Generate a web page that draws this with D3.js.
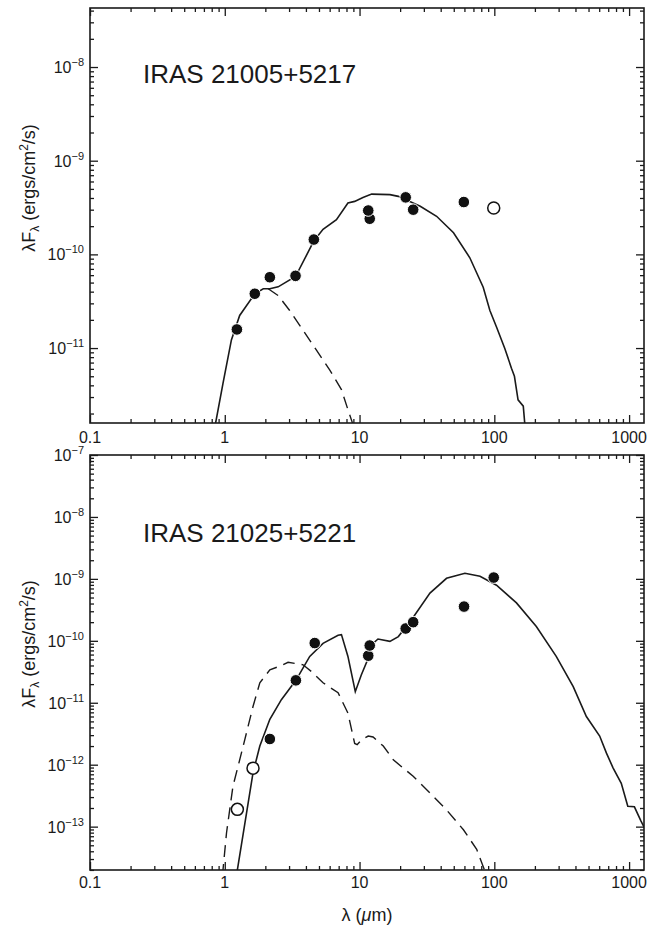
<!DOCTYPE html>
<html>
<head>
<meta charset="utf-8">
<script src="https://cdn.jsdelivr.net/npm/d3@7"></script>
<style>
  body { margin: 0; background: #fff; }
  text { font-family: "Liberation Sans", Arial, Helvetica, sans-serif; fill: #1a1a1a; }
</style>
</head>
<body>
<div id="chart"></div>
<script>
// x axis, shared by both panels
const xMajor = [0.1, 1, 10, 100, 1000];
const xTickLabels = ["0.1", "1", "10", "100", "1000"];

// IRAS 21005+5217
const topName = "IRAS 21005+5217";
const topExp = [-8, -9, -10, -11];
const topPtsLam = [1.23, 1.67, 2.16, 3.35, 4.58, 11.9, 11.6, 22, 25, 59.4];
const topPtsFlux = [1.58e-11, 3.8e-11, 5.7e-11, 5.9e-11, 1.44e-10, 2.4e-10, 2.94e-10, 4.06e-10, 3.0e-10, 3.62e-10];
const topOpenLam = [99];
const topOpenFlux = [3.13e-10];
const topModelLam = [0.83, 0.97, 1.12, 1.29, 1.67, 1.93, 2.16, 2.49, 3.35, 4.58, 5.36, 6.74, 8.2, 9.2, 10.6, 12.3,
                     16.8, 19.4, 28.2, 37.3, 49.8, 65.8, 82.7, 92.7, 103.8, 119.6, 134, 141, 150, 164, 168, 172];
const topModelFlux = [1.26e-12, 4.2e-12, 1.22e-11, 2.23e-11, 3.8e-11, 4.3e-11, 4.3e-11, 4.5e-11, 5.8e-11, 1.39e-10,
                      1.85e-10, 2.35e-10, 3.53e-10, 3.68e-10, 4.05e-10, 4.4e-10, 4.34e-10, 4.16e-10, 3.26e-10, 2.55e-10,
                      1.70e-10, 9.2e-11, 4.46e-11, 2.52e-11, 1.68e-11, 9.9e-12, 6.1e-12, 5.0e-12, 2.8e-12, 2.4e-12,
                      1.6e-12, 1.0e-12];
const topStarLam = [2.1, 2.49, 3.03, 3.81, 4.79, 6.0, 7.34, 8.2, 8.84, 9.2];
const topStarFlux = [4.3e-11, 3.63e-11, 2.52e-11, 1.55e-11, 9.5e-12, 5.85e-12, 3.6e-12, 2.2e-12, 1.6e-12, 1.0e-12];

// IRAS 21025+5221
const botName = "IRAS 21025+5221";
const botExp = [-7, -8, -9, -10, -11, -12, -13];
const botPtsLam = [2.16, 3.37, 4.65, 11.6, 11.9, 22, 25, 59.6, 99];
const botPtsFlux = [2.6e-12, 2.3e-11, 9.2e-11, 5.75e-11, 8.4e-11, 1.58e-10, 2.0e-10, 3.57e-10, 1.05e-9];
const botOpenLam = [1.62, 1.24];
const botOpenFlux = [8.8e-13, 1.9e-13];
const botModelLam = [1.22, 1.24, 1.45, 1.62, 1.82, 2.16, 2.63, 3.37, 4.27, 5.36, 6.93, 7.34, 8.2, 9.3, 10.3, 11.6,
                     11.9, 13.7, 16.8, 19.4, 24.3, 33.3, 44.2, 60.5, 78.3, 103.8, 146, 205, 288, 385, 482, 605,
                     678, 760, 875, 978, 1095, 1226, 1300];
const botModelFlux = [1.6e-14, 2.0e-14, 1.66e-13, 7.4e-13, 2.0e-12, 5.4e-12, 1.12e-11, 2.3e-11, 5.6e-11, 9.1e-11,
                      1.23e-10, 1.26e-10, 5.6e-11, 1.51e-11, 2.8e-11, 5.2e-11, 8.1e-11, 1.07e-10, 9.8e-11, 1.17e-10,
                      2.19e-10, 5.9e-10, 1.02e-9, 1.23e-9, 1.10e-9, 7.9e-10, 4.1e-10, 1.70e-10, 5.6e-11, 1.82e-11,
                      6.0e-12, 2.9e-12, 1.55e-12, 8.9e-13, 5.0e-13, 2.14e-13, 2.09e-13, 1.23e-13, 9.5e-14];
const botStarLam = [0.96, 0.97, 1.03, 1.15, 1.37, 1.62, 1.82, 2.16, 2.56, 2.95, 3.81, 4.39, 5.36, 6.93, 8.2, 9.2,
                    9.6, 10.3, 11.6, 12.6, 15.0, 17.8, 25, 33.3, 44.2, 59, 74, 84.5, 86];
const botStarFlux = [1.6e-14, 2.0e-14, 7.9e-14, 4.5e-13, 2.0e-12, 8.7e-12, 2.1e-11, 3.4e-11, 3.9e-11, 4.5e-11,
                     4.1e-11, 3.2e-11, 2.1e-11, 1.45e-11, 6.8e-12, 2.2e-12, 2.1e-12, 2.5e-12, 2.9e-12, 2.8e-12,
                     2.0e-12, 1.2e-12, 6.5e-13, 3.5e-13, 1.86e-13, 8.9e-14, 4.3e-14, 2.0e-14, 1.6e-14];

const W = 663, H = 928;
const left = 90, right = 644;

const svg = d3.select("#chart")
              .append("svg")
              .attr("width", W)
              .attr("height", H);

const x = d3.scaleLog()
            .domain([0.1, 1290])
            .range([left, right]);

const xMinor = x.ticks().filter(t => !xMajor.some(m => Math.abs(m - t) < 1e-9));

function drawPanel(p, id)
{
  const y = d3.scaleLog()
              .domain(p.yDomain)
              .range([p.bottom, p.top]);

  const yMajor = p.exp.map(e => Math.pow(10, e));
  const yMinor = y.ticks().filter(t => !yMajor.some(m => Math.abs(m - t) / m < 1e-6));

  const g = svg.append("g");

  // ticks on all four sides, pointing inward
  const axes = [
    [d3.axisBottom(x), `translate(0, ${p.bottom})`, xMajor, xMinor],
    [d3.axisTop(x), `translate(0, ${p.top})`, xMajor, xMinor],
    [d3.axisLeft(y), `translate(${left}, 0)`, yMajor, yMinor],
    [d3.axisRight(y), `translate(${right}, 0)`, yMajor, yMinor]
  ];
  axes.forEach(([ax, tr, major, minor]) => {
    const a = g.append("g").attr("transform", tr)
               .call(ax.tickValues(major).tickSize(-8).tickSizeOuter(0).tickFormat(""));
    a.select(".domain").remove();
    const b = g.append("g").attr("transform", tr)
               .call(ax.tickValues(minor).tickSize(-4).tickSizeOuter(0).tickFormat(""));
    b.select(".domain").remove();
  });
  g.selectAll(".tick line").attr("stroke", "#1a1a1a").attr("stroke-width", 1.3);

  g.append("rect")
   .attr("x", left).attr("y", p.top)
   .attr("width", right - left).attr("height", p.bottom - p.top)
   .attr("fill", "none").attr("stroke", "#1a1a1a").attr("stroke-width", 1.6);

  // tick labels
  g.selectAll(".xlab")
   .data(xMajor)
   .join("text")
   .attr("x", d => x(d))
   .attr("y", p.bottom + p.xLabDy)
   .attr("text-anchor", "middle")
   .attr("font-size", 16)
   .text((d, i) => xTickLabels[i]);

  const yl = g.selectAll(".ylab")
              .data(p.exp)
              .join("text")
              .attr("x", left - 6)
              .attr("y", d => y(Math.pow(10, d)) + 6)
              .attr("text-anchor", "end")
              .attr("font-size", 16);
  yl.append("tspan").text("10");
  yl.append("tspan").attr("font-size", 11).attr("dy", -7).text(d => "\u2212" + Math.abs(d));

  // y title
  const t = g.append("text")
             .attr("transform", `translate(35, ${p.titleY}) rotate(-90)`)
             .attr("text-anchor", "middle")
             .attr("font-size", 18);
  t.append("tspan").text("\u03bbF");
  t.append("tspan").attr("font-size", 12).attr("dy", 4).text("\u03bb");
  t.append("tspan").attr("dy", -4).text(" (ergs/cm");
  t.append("tspan").attr("font-size", 12).attr("dy", -7).text("2");
  t.append("tspan").attr("dy", 7).text("/s)");

  g.append("text")
   .attr("x", 143).attr("y", p.nameY)
   .attr("font-size", 26)
   .text(p.name);

  // model curves, clipped to the frame
  g.append("clipPath").attr("id", id)
   .append("rect")
   .attr("x", left).attr("y", p.top)
   .attr("width", right - left).attr("height", p.bottom - p.top);

  const line = d3.line()
                 .x(d => x(d[0]))
                 .y(d => y(d[1]));

  const curves = g.append("g").attr("clip-path", `url(#${id})`);
  curves.append("path")
        .datum(d3.zip(p.starLam, p.starFlux))
        .attr("d", line)
        .attr("fill", "none")
        .attr("stroke", "#1a1a1a")
        .attr("stroke-width", 1.4)
        .attr("stroke-dasharray", "12,7");
  curves.append("path")
        .datum(d3.zip(p.modelLam, p.modelFlux))
        .attr("d", line)
        .attr("fill", "none")
        .attr("stroke", "#1a1a1a")
        .attr("stroke-width", 1.6);

  g.append("g")
   .selectAll("circle")
   .data(d3.zip(p.ptsLam, p.ptsFlux))
   .join("circle")
   .attr("cx", d => x(d[0]))
   .attr("cy", d => y(d[1]))
   .attr("r", 5.8)
   .attr("fill", "#111")
   .attr("stroke", "#fff")
   .attr("stroke-width", 1);

  g.append("g")
   .selectAll("circle")
   .data(d3.zip(p.openLam, p.openFlux))
   .join("circle")
   .attr("cx", d => x(d[0]))
   .attr("cy", d => y(d[1]))
   .attr("r", 6)
   .attr("fill", "#fff")
   .attr("stroke", "#111")
   .attr("stroke-width", 1.5);
}

drawPanel({
  top: 8, bottom: 423, yDomain: [1.585e-12, 4.266e-8], exp: topExp,
  xLabDy: 20, titleY: 188, nameY: 83, name: topName,
  ptsLam: topPtsLam, ptsFlux: topPtsFlux, openLam: topOpenLam, openFlux: topOpenFlux,
  modelLam: topModelLam, modelFlux: topModelFlux, starLam: topStarLam, starFlux: topStarFlux
}, "clipTop");

drawPanel({
  top: 455, bottom: 870, yDomain: [1.995e-14, 1e-7], exp: botExp,
  xLabDy: 18, titleY: 644, nameY: 542, name: botName,
  ptsLam: botPtsLam, ptsFlux: botPtsFlux, openLam: botOpenLam, openFlux: botOpenFlux,
  modelLam: botModelLam, modelFlux: botModelFlux, starLam: botStarLam, starFlux: botStarFlux
}, "clipBot");

const xt = svg.append("text")
              .attr("x", (left + right) / 2)
              .attr("y", 921)
              .attr("text-anchor", "middle")
              .attr("font-size", 18);
xt.append("tspan").text("\u03bb (");
xt.append("tspan").attr("font-style", "italic").text("\u03bc");
xt.append("tspan").text("m)");
</script>
</body>
</html>
